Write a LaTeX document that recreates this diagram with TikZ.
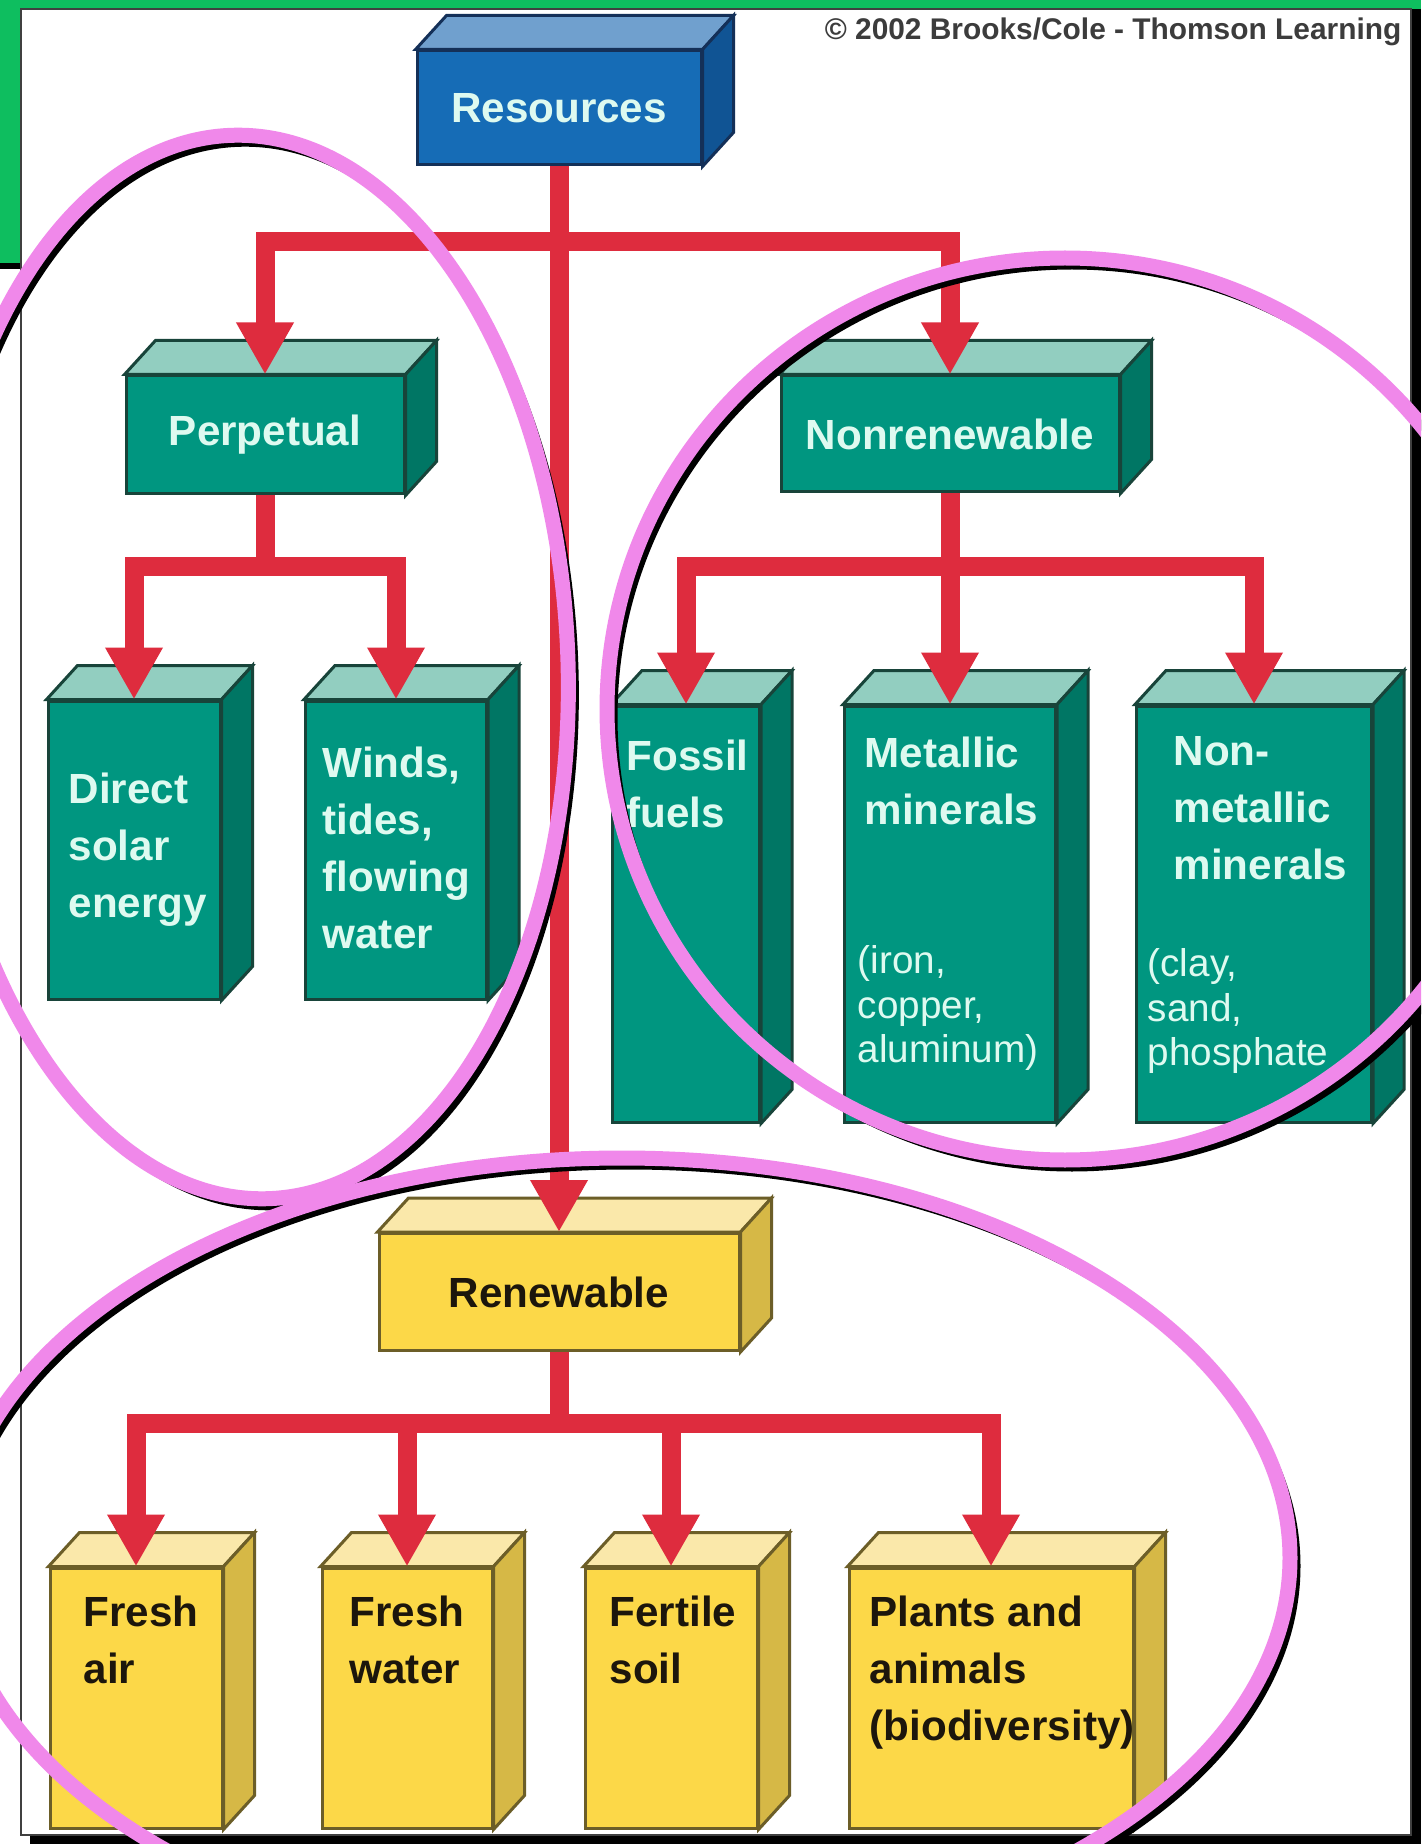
\documentclass[tikz,border=0pt]{standalone}
\usepackage{fontspec}
\setmainfont{Liberation Sans}
\usetikzlibrary{arrows.meta}

\definecolor{slidegreen}{RGB}{14,190,95}
\definecolor{frontblue}{RGB}{22,108,182}
\definecolor{topblue}{RGB}{112,160,206}
\definecolor{sideblue}{RGB}{16,84,148}
\definecolor{edgeblue}{RGB}{20,48,88}
\definecolor{frontteal}{RGB}{0,150,128}
\definecolor{topteal}{RGB}{146,206,192}
\definecolor{sideteal}{RGB}{0,118,100}
\definecolor{edgeteal}{RGB}{24,68,58}
\definecolor{frontyel}{RGB}{252,216,72}
\definecolor{topyel}{RGB}{250,232,170}
\definecolor{sideyel}{RGB}{214,184,70}
\definecolor{edgeyel}{RGB}{108,94,40}
\definecolor{lighttext}{RGB}{222,250,240}
\definecolor{darktext}{RGB}{28,22,12}
\definecolor{linkred}{RGB}{222,44,62}
\definecolor{ringpink}{RGB}{240,136,234}
\definecolor{creditgray}{RGB}{60,60,60}

\begin{document}
\begin{tikzpicture}[
    x=0.1mm, y=-0.1mm,
  front/.style={line width=0.3mm, inner sep=0pt, font=\bfseries\fontsize{12}{16}\selectfont},
  bluebox/.style={front, draw=edgeblue, fill=frontblue, text=lighttext},
  tealbox/.style={front, draw=edgeteal, fill=frontteal, text=lighttext},
  yelbox/.style={front, draw=edgeyel, fill=frontyel, text=darktext},
  lbl/.style={anchor=north west, inner sep=0pt, align=left, font=\bfseries\fontsize{12}{16.2}\selectfont},
  tlbl/.style={lbl, text=lighttext},
  ylbl/.style={lbl, text=darktext},
  sublbl/.style={tlbl, font=\fontsize{11}{12.7}\selectfont},
  feed/.style={draw=linkred, line width=1.9mm, -{Triangle[width=5.4mm,length=5.2mm]}},
  ring/.style={draw=ringpink, line width=1.5mm},
  ringshade/.style={draw=black, line width=0.7mm, shift={(7,8)}}
]
\useasboundingbox (0,0) rectangle (1421,1844);

% --- slide frame ---
\fill[white] (0,0) rectangle (1421,1844);
\fill[slidegreen] (0,0) rectangle (1421,9);
\fill[slidegreen] (0,0) rectangle (21,263);
\fill[black] (0,263) rectangle (21,269);
\fill[black] (1411,9) rectangle (1421,1844);
\fill[black] (30,1835) rectangle (1421,1844);
\draw[line width=0.25mm, black!75] (21,9) rectangle (1411,1835);

\node[font=\bfseries\fontsize{8.5}{10}\selectfont, text=creditgray, anchor=east, inner sep=0pt] (credit) at (1402,32) {© 2002 Brooks/Cole - Thomson Learning};

% --- front faces ---
\node[bluebox, minimum width=28.4mm, minimum height=11.4mm] (res) at (559,108) {Resources};
\node[tealbox, minimum width=27.8mm, minimum height=11.8mm] (perp) at (265,435) {Perpetual};
\node[tealbox, minimum width=33.8mm, minimum height=11.6mm] (nonr) at (950,434) {Nonrenewable};
\node[tealbox, minimum width=17.2mm, minimum height=29.8mm] (solar) at (134,850) {};
\node[tealbox, minimum width=18.1mm, minimum height=29.8mm] (winds) at (396,850) {};
\node[tealbox, minimum width=14.7mm, minimum height=41.6mm] (fossil) at (686,914) {};
\node[tealbox, minimum width=21.1mm, minimum height=41.6mm] (metal) at (950,914) {};
\node[tealbox, minimum width=23.5mm, minimum height=41.6mm] (nonmet) at (1254,914) {};
\node[yelbox, minimum width=36.0mm, minimum height=11.7mm] (ren) at (559,1292) {Renewable};
\node[yelbox, minimum width=17.2mm, minimum height=26.0mm] (air) at (136,1698) {};
\node[yelbox, minimum width=17.0mm, minimum height=26.0mm] (fwater) at (407,1698) {};
\node[yelbox, minimum width=17.2mm, minimum height=26.0mm] (soil) at (671,1698) {};
\node[yelbox, minimum width=28.4mm, minimum height=26.0mm] (plants) at (991,1698) {};

% --- top and side faces ---
\foreach \n/\cl in {res/blue, perp/teal, nonr/teal, solar/teal, winds/teal, fossil/teal,
    metal/teal, nonmet/teal, ren/yel, air/yel, fwater/yel, soil/yel, plants/yel} {
  \filldraw[fill=top\cl, draw=edge\cl, line width=0.3mm] (\n.north west) -- ++(31,-34)
    -- ([shift={(31,-34)}]\n.north east) -- (\n.north east) -- cycle;
  \filldraw[fill=side\cl, draw=edge\cl, line width=0.3mm] (\n.north east) -- ++(31,-34)
    -- ([shift={(31,-34)}]\n.south east) -- (\n.south east) -- cycle;
}

% --- box texts ---
\node[tlbl] (solarlbl) at (68,772) {Direct\\solar\\energy};
\node[tlbl] (windslbl) at (322,746) {Winds,\\tides,\\flowing\\water};
\node[tlbl] (fossillbl) at (626,739) {Fossil\\fuels};
\node[tlbl] (metallbl) at (864,736) {Metallic\\minerals};
\node[sublbl] (metalsub) at (857,945) {(iron,\\copper,\\aluminum)};
\node[tlbl] (nonmetlbl) at (1173,736) {Non-\\metallic\\minerals};
\node[sublbl] (nonmetsub) at (1147,948) {(clay,\\sand,\\phosphate};
\node[ylbl] (airlbl) at (83,1595) {Fresh\\air};
\node[ylbl] (fwaterlbl) at (349,1595) {Fresh\\water};
\node[ylbl] (soillbl) at (609,1595) {Fertile\\soil};
\node[ylbl] (plantslbl) at (869,1595) {Plants and\\animals\\(biodiversity)};

% --- red links ---
\draw[feed] (res.south) -- (ren.north);
\draw[feed] (res.south) -- ++(0,75) -| (perp.north);
\draw[feed] (res.south) -- ++(0,75) -| (nonr.north);
\draw[feed] (perp.south) -- ++(0,71) -| (solar.north);
\draw[feed] (perp.south) -- ++(0,71) -| (winds.north);
\draw[feed] (nonr.south) -- ++(0,73) -| (fossil.north);
\draw[feed] (nonr.south) -- (metal.north);
\draw[feed] (nonr.south) -- ++(0,73) -| (nonmet.north);
\draw[feed] (ren.south) -- ++(0,71) -| (air.north);
\draw[feed] (ren.south) -- ++(0,71) -| (fwater.north);
\draw[feed] (ren.south) -- ++(0,71) -| (soil.north);
\draw[feed] (ren.south) -- ++(0,71) -| (plants.north);

% --- pink rings ---
\begin{scope}
\clip (0,0) rectangle (1421,1844);
\draw[ringshade, rotate around={2:(250,667)}] (250,667) ellipse [x radius=31.8mm, y radius=53.2mm];
\draw[ringshade] (1065,709) ellipse [x radius=45.8mm, y radius=45.1mm];
\draw[ringshade] (622,1558) ellipse [x radius=66.8mm, y radius=40.0mm];
\draw[ring, rotate around={2:(250,667)}] (250,667) ellipse [x radius=31.8mm, y radius=53.2mm];
\draw[ring] (1065,709) ellipse [x radius=45.8mm, y radius=45.1mm];
\draw[ring] (622,1558) ellipse [x radius=66.8mm, y radius=40.0mm];
\end{scope}
\end{tikzpicture}
\end{document}
